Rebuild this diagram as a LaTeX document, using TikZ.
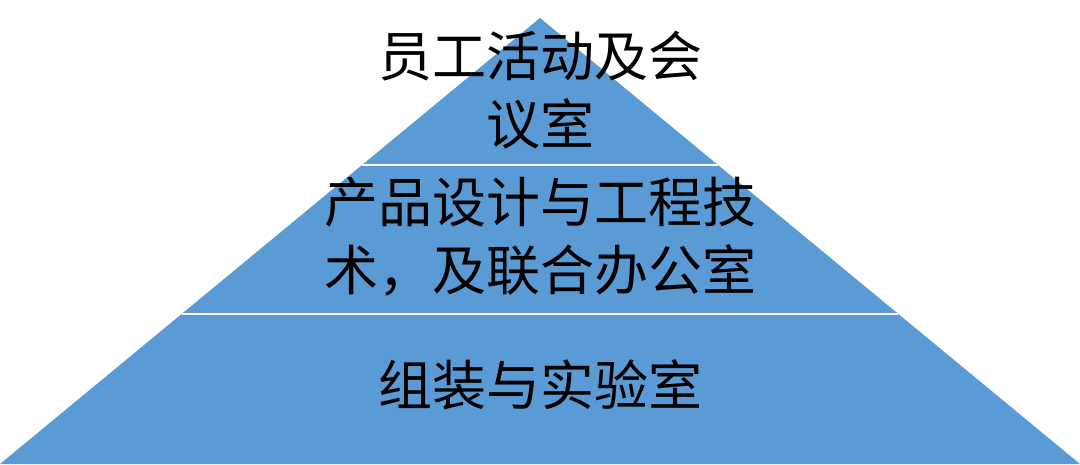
\documentclass[tikz,border=0pt]{standalone}
\usepackage{fontspec}
\newfontfamily\cjk{Noto Sans CJK SC}
\usetikzlibrary{calc}
\definecolor{pyrblue}{RGB}{91,155,213}
\tikzset{
  layer/.style={font=\cjk\fontsize{54}{68}\selectfont, text=black, align=center, inner sep=0pt},
  divider/.style={draw=white, line width=1.5pt}
}
\begin{document}
\begin{tikzpicture}[x=1pt,y=-1pt]
\useasboundingbox (0,0) rectangle (1080,464);
\coordinate (apex) at (540,18);
\coordinate (bl) at (0,464);
\coordinate (br) at (1080,464);
\fill[pyrblue] (apex) -- (br) -- (bl) -- cycle;
\coordinate (d1l) at ($(apex)!0.3296!(bl)$);
\coordinate (d1r) at ($(apex)!0.3296!(br)$);
\coordinate (d2l) at ($(apex)!0.6637!(bl)$);
\coordinate (d2r) at ($(apex)!0.6637!(br)$);
\draw[divider] (d1l) -- (d1r);
\draw[divider] (d2l) -- (d2r);
\node[layer] (top) at (540,90) {员工活动及会\\议室};
\node[layer] (mid) at (540,237) {产品设计与工程技\\术，及联合办公室};
\node[layer] (bot) at (540,385) {组装与实验室};
\end{tikzpicture}
\end{document}
